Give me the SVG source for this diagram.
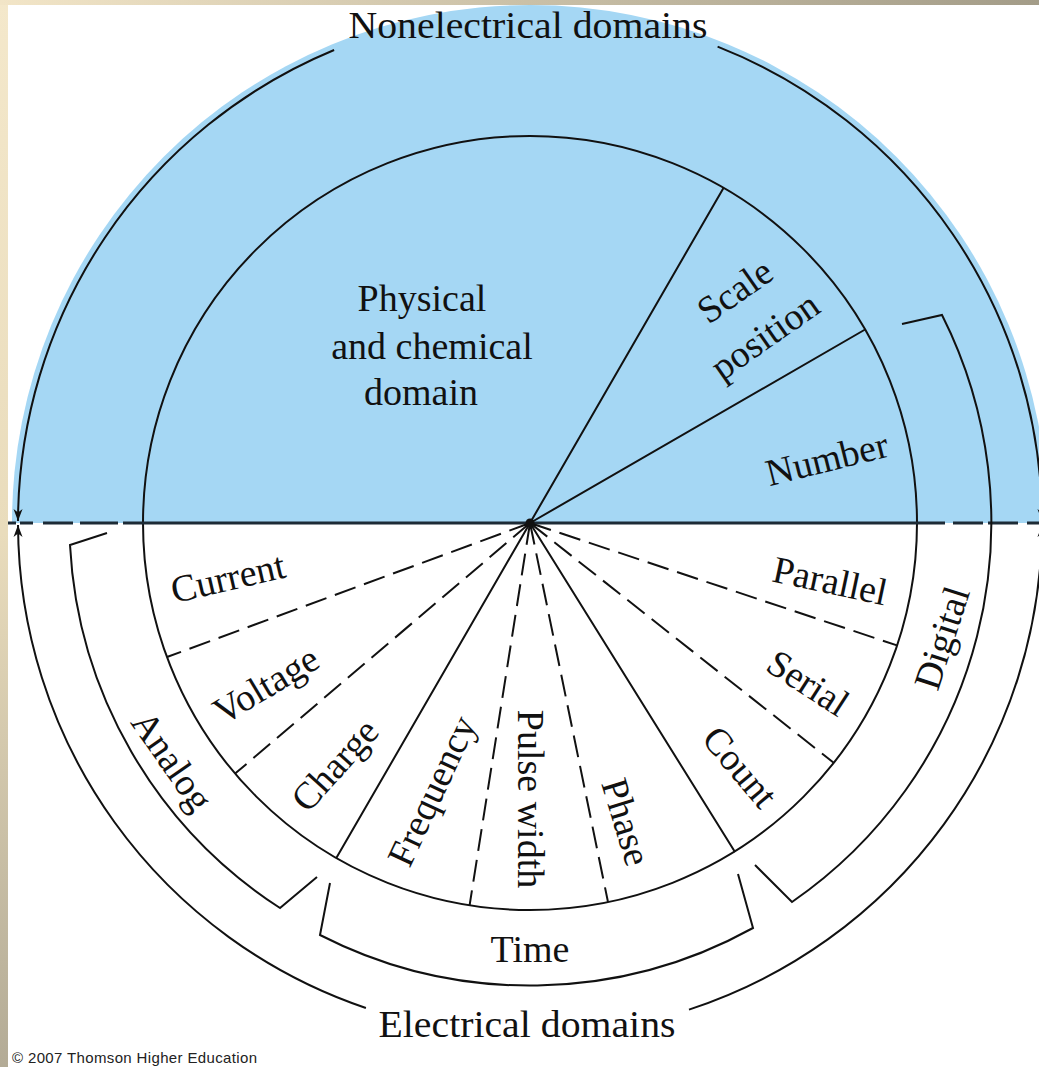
<svg xmlns="http://www.w3.org/2000/svg" width="1039" height="1067" viewBox="0 0 1039 1067">
<defs>
<linearGradient id="lg" x1="0" y1="0" x2="0" y2="1">
<stop offset="0" stop-color="#f4e8cb"/>
<stop offset="0.5" stop-color="#e9dcbc"/>
<stop offset="1" stop-color="#b3ab96"/>
</linearGradient>
<linearGradient id="tg" x1="0" y1="0" x2="1" y2="0">
<stop offset="0" stop-color="#f2e5c7"/>
<stop offset="1" stop-color="#a39c88"/>
</linearGradient>
<marker id="ah" viewBox="-13 -6 14 12" refX="0" refY="0" markerWidth="14" markerHeight="12" markerUnits="userSpaceOnUse" orient="auto">
<path d="M0,0 L-12,-4.5 L-8.5,0 L-12,4.5 Z" fill="#111"/>
</marker>
<style>
.ln{fill:none;stroke:#111;stroke-width:2}
.dash{fill:none;stroke:#111;stroke-width:2;stroke-dasharray:22 9}
.hz{fill:none;stroke:#1d2b36;stroke-width:3}
.lbl{font-family:"Liberation Serif","Times New Roman",serif;font-size:38px;fill:#111;text-anchor:middle}
.cp{font-family:"Liberation Sans",Arial,sans-serif;font-size:15px;fill:#222}
</style>
</defs>
<rect width="1039" height="1067" fill="#ffffff"/>
<g id="frame">
<rect x="0" y="0" width="8" height="1067" fill="url(#lg)"/>
<rect x="0" y="0" width="1039" height="5" fill="url(#tg)"/>
</g>
<g id="nonelectrical-domain">
<path d="M12 523 A517 517 0 0 1 1048 523 Z" fill="#a5d7f4"/>
</g>
<g id="connectors">
<circle cx="530" cy="523" r="387" class="ln"/>
<path class="hz" d="M145 523 H916"/>
<path class="hz" d="M8 523 H16 M20 523 H33 M43 523 H73 M80 523 H118 M123 523 H145 M916 523 H945 M953 523 H983 M988 523 H1018 M1027 523 H1039"/>
<path class="ln" d="M530 523 L723.5 187.9 M530 523 L865.1 329.5"/>
<path class="ln" d="M530 523 L336.3 858.1 M530 523 L735 852"/>
<path class="dash" d="M530 523 L167 657 M530 523 L235.1 773.6 M530 523 L469.6 905.3 M530 523 L608 902 M530 523 L834 763 M530 523 L897 645.4"/>
<circle cx="530" cy="523" r="4.5" fill="#111"/>
<path class="ln" d="M334.1 50 A512 512 0 0 0 18 521" marker-end="url(#ah)"/>
<path class="ln" d="M365.9 1008 A512 512 0 0 1 18 525" marker-end="url(#ah)"/>
<path class="ln" d="M717.6 46.6 A512 512 0 0 1 1042 521" marker-end="url(#ah)"/>
<path class="ln" d="M689 1009.6 A512 512 0 0 0 1042 525" marker-end="url(#ah)"/>
<path class="ln" d="M107 533 L70 545 A461 461 0 0 0 280 908 L317 877"/>
<path class="ln" d="M330 883 L320 935 A461 461 0 0 0 753 928 L738 874"/>
<path class="ln" d="M902 324 L942 315 A461 461 0 0 1 792 902 L755 865"/>
</g>
<g id="title-top"><text class="lbl" x="528" y="38" textLength="359" lengthAdjust="spacingAndGlyphs">Nonelectrical domains</text></g>
<g id="title-bottom"><text class="lbl" x="527" y="1037" textLength="297" lengthAdjust="spacingAndGlyphs">Electrical domains</text></g>
<g id="physical"><text class="lbl" x="422" y="311">Physical</text><text class="lbl" x="432" y="359">and chemical</text><text class="lbl" x="421" y="405">domain</text></g>
<g id="scale"><text class="lbl" transform="translate(735 291) rotate(-35)" dy="0.33em">Scale</text><text class="lbl" transform="translate(765 336) rotate(-35)" dy="0.33em">position</text></g>
<g id="number"><text class="lbl" transform="translate(827 459) rotate(-14)" dy="0.33em">Number</text></g>
<g id="current"><text class="lbl" transform="translate(228 578) rotate(-13)" dy="0.33em">Current</text></g>
<g id="voltage"><text class="lbl" transform="translate(266 685) rotate(-31)" dy="0.33em">Voltage</text></g>
<g id="charge"><text class="lbl" transform="translate(335 765) rotate(-48)" dy="0.33em">Charge</text></g>
<g id="frequency"><text class="lbl" transform="translate(432 791) rotate(-65)" dy="0.33em">Frequency</text></g>
<g id="pulse-width"><text class="lbl" transform="translate(531 799) rotate(90)" dy="0.33em">Pulse width</text></g>
<g id="phase"><text class="lbl" transform="translate(626 822) rotate(73)" dy="0.33em">Phase</text></g>
<g id="count"><text class="lbl" transform="translate(740 767) rotate(50)" dy="0.33em">Count</text></g>
<g id="serial"><text class="lbl" transform="translate(808 683) rotate(33)" dy="0.33em">Serial</text></g>
<g id="parallel"><text class="lbl" transform="translate(830 581) rotate(12)" dy="0.33em">Parallel</text></g>
<g id="analog"><text class="lbl" transform="translate(172 761) rotate(55)" dy="0.33em">Analog</text></g>
<g id="time"><text class="lbl" x="530" y="962">Time</text></g>
<g id="digital"><text class="lbl" transform="translate(942 638) rotate(-72)" dy="0.33em">Digital</text></g>
<g id="copyright"><text class="cp" x="12" y="1063" textLength="245">© 2007 Thomson Higher Education</text></g>
</svg>
